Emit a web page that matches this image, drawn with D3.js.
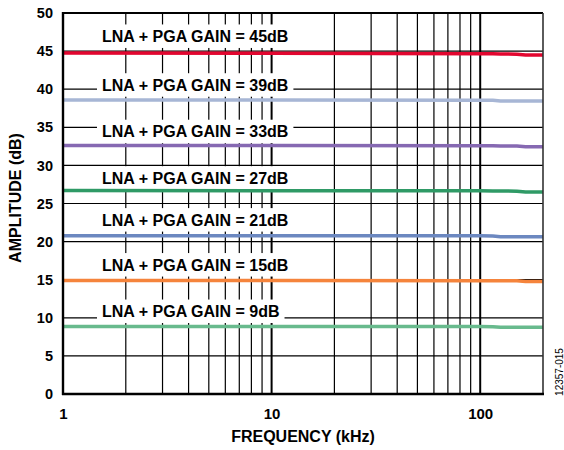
<!DOCTYPE html>
<html><head><meta charset="utf-8">
<script src="https://cdn.jsdelivr.net/npm/d3@7"></script>
<style>body{margin:0;background:#fff}svg{display:block}text{font-family:"Liberation Sans",Arial,sans-serif}</style>
</head><body><svg id="c" width="564" height="450"></svg>
<script>
const freqs = [1, 10, 100, 115, 125, 150, 165, 200];
const gains = ["45dB","39dB","33dB","27dB","21dB","15dB","9dB"];
const g45 = [44.75, 44.72, 44.65, 44.64, 44.63, 44.6, 44.5, 44.5];
const g39 = [38.57, 38.57, 38.55, 38.55, 38.45, 38.44, 38.44, 38.44];
const g33 = [32.62, 32.6, 32.58, 32.57, 32.56, 32.55, 32.45, 32.45];
const g27 = [26.7, 26.68, 26.66, 26.65, 26.64, 26.62, 26.52, 26.52];
const g21 = [20.78, 20.77, 20.76, 20.72, 20.65, 20.64, 20.64, 20.64];
const g15 = [14.88, 14.88, 14.87, 14.86, 14.86, 14.85, 14.75, 14.75];
const g9  = [8.87, 8.86, 8.86, 8.84, 8.77, 8.76, 8.76, 8.76];
const xTicks = [1, 10, 100];
const xTickLabels = ["1", "10", "100"];
const yTicks = [0,5,10,15,20,25,30,35,40,45,50];
const series = [g45,g39,g33,g27,g21,g15,g9];
const colors = ["#e2062f","#a7b6d5","#8669b2","#2f9a66","#6c88c0","#f5843c","#68ba8d"];
const labelAt = [46.2, 39.8, 33.7, 27.6, 22.1, 16.2, 10.1]; // annotation baseline (dB)

const L=63,R=543,T=13,B=394;
const svg=d3.select("#c");
const x=d3.scaleLog().domain([1,200]).range([L,R]);
const y=d3.scaleLinear().domain([0,50]).range([B,T]);

// grid
const minor=[];
[1,10].forEach(d=>{for(let k=2;k<=9;k++) minor.push(d*k);});
const gv=svg.append("g");
gv.selectAll("line.v").data(minor).join("line")
 .attr("x1",d=>x(d)).attr("x2",d=>x(d)).attr("y1",T).attr("y2",B)
 .attr("stroke","#000").attr("stroke-width",1.2);
gv.selectAll("line.d").data([10,100]).join("line").attr("class","d")
 .attr("x1",d=>x(d)).attr("x2",d=>x(d)).attr("y1",T).attr("y2",B)
 .attr("stroke","#000").attr("stroke-width",2);
gv.selectAll("line.h").data(yTicks.filter(v=>v>0&&v<50)).join("line").attr("class","h")
 .attr("x1",L).attr("x2",R).attr("y1",d=>y(d)).attr("y2",d=>y(d))
 .attr("stroke","#000").attr("stroke-width",1.2);

// labels with white boxes
const lg=svg.append("g");
gains.forEach((gn,i)=>{
  const t=lg.append("text").attr("x",102).attr("y",y(labelAt[i]))
    .attr("font-size",16).attr("font-weight","bold").attr("fill","#000")
    .text("LNA + PGA GAIN = "+gn);
  const bb=t.node().getBBox();
  lg.insert("rect",()=>t.node()).attr("x",bb.x-5).attr("y",y(labelAt[i])-17.5)
    .attr("width",bb.width+10).attr("height",23.5).attr("fill","#fff");
});

// lines
const line=d3.line().x((d,i)=>x(freqs[i])).y(d=>y(d));
svg.append("g").selectAll("path").data(series).join("path")
 .attr("d",d=>line(d)).attr("fill","none")
 .attr("stroke",(d,i)=>colors[i]).attr("stroke-width",3.5);

// frame
svg.append("line").attr("x1",L).attr("x2",R).attr("y1",T).attr("y2",T).attr("stroke","#000").attr("stroke-width",2);
svg.append("line").attr("x1",R).attr("x2",R).attr("y1",T).attr("y2",B).attr("stroke","#333").attr("stroke-width",1.6);
svg.append("line").attr("x1",L).attr("x2",L).attr("y1",T-1).attr("y2",B+1).attr("stroke","#000").attr("stroke-width",2.4);
svg.append("line").attr("x1",L-1).attr("x2",R+1).attr("y1",B).attr("y2",B).attr("stroke","#000").attr("stroke-width",2.4);

// axes (labels only)
const xa=svg.append("g").attr("transform",`translate(0,${B})`)
 .call(d3.axisBottom(x).tickValues(xTicks).tickFormat((d,i)=>xTickLabels[i]).tickSize(0).tickPadding(14));
xa.select(".domain").remove();
xa.selectAll("text").attr("font-size",15).attr("font-weight","bold").attr("fill","#000").attr("font-family",null);
const ya=svg.append("g").attr("transform",`translate(${L},0)`)
 .call(d3.axisLeft(y).tickValues(yTicks).tickSize(0).tickPadding(10));
ya.select(".domain").remove();
ya.selectAll("text").attr("font-size",14.5).attr("font-weight","bold").attr("fill","#000").attr("font-family",null);

svg.append("text").attr("x",(L+R)/2).attr("y",442).attr("text-anchor","middle")
 .attr("font-size",16).attr("font-weight","bold").text("FREQUENCY (kHz)");
svg.append("text").attr("transform",`translate(21,198) rotate(-90)`).attr("text-anchor","middle")
 .attr("font-size",16).attr("font-weight","bold").text("AMPLITUDE (dB)");
svg.append("text").attr("transform",`translate(563,372) rotate(-90)`).attr("text-anchor","middle")
 .attr("font-size",10).text("12357-015");
</script></body></html>
